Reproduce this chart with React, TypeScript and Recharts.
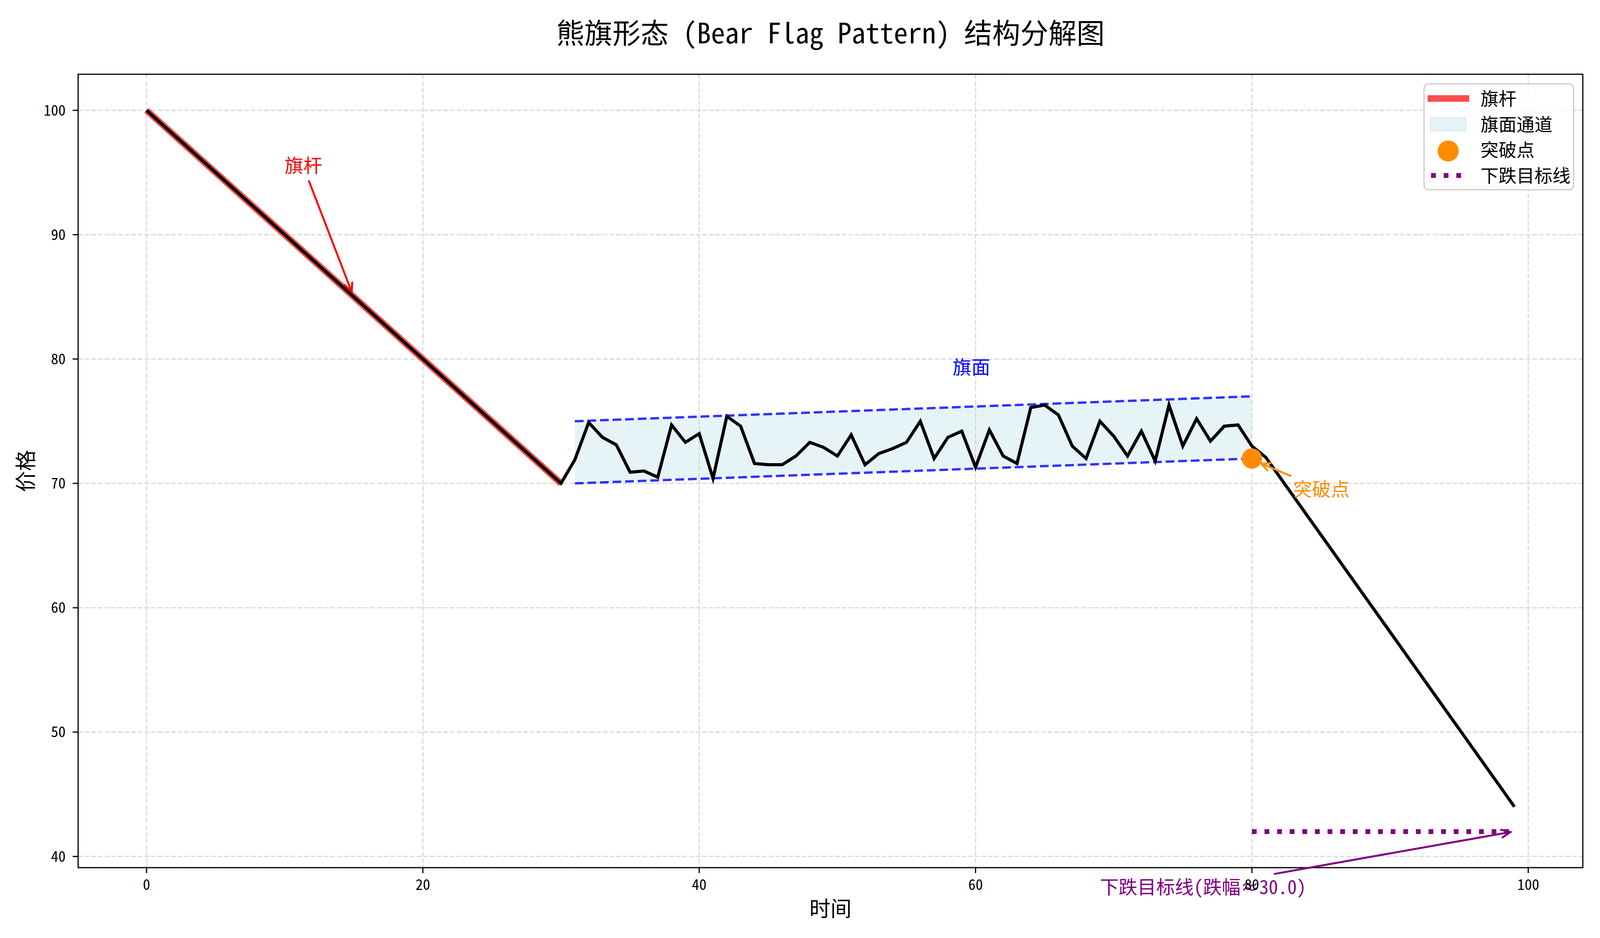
import React from 'react'
import {
  ComposedChart, Line, Area, Scatter, XAxis, YAxis, CartesianGrid,
  ReferenceLine, ReferenceArea, ReferenceDot, Legend,
} from 'recharts'

const FONT = "'Noto Sans Mono CJK SC', 'Noto Sans CJK SC', 'DejaVu Sans', sans-serif"

// the browser viewport is 4096 wide, so the 4200-wide layout is squeezed horizontally
const W = 4096
const H = 2400
const K = W / 4200

// flag pole (straight fall)
const POLE_X = [0, 30]
const POLE_Y = [100, 70]

// flag consolidation, x = 31 .. 80
const FLAG_START = 31
const FLAG_Y = [
  71.9, 74.9, 73.7, 73.1, 70.9, 71.0, 70.5, 74.7, 73.3, 74.0,
  70.4, 75.4, 74.6, 71.6, 71.5, 71.5, 72.2, 73.3, 72.9, 72.2,
  73.9, 71.5, 72.4, 72.8, 73.3, 75.0, 72.0, 73.7, 74.2, 71.3,
  74.3, 72.2, 71.6, 76.1, 76.3, 75.5, 73.0, 72.0, 75.0, 73.8,
  72.2, 74.2, 71.8, 76.3, 73.0, 75.2, 73.4, 74.6, 74.7, 73.0,
]

// breakdown after the flag
const DROP_X = [81, 99]
const DROP_Y = [72.1, 44]

// flag channel
const CHANNEL_X = [31, 80]
const CHANNEL_LOWER = [70, 72]
const CHANNEL_UPPER = [75, 77]

const BREAKOUT_X = [80]
const BREAKOUT_Y = [72]

const TARGET_X = [80, 99]
const TARGET_Y = [42, 42]

const X_TICKS = [0, 20, 40, 60, 80, 100]
const Y_TICKS = [40, 50, 60, 70, 80, 90, 100]

const LEGEND_LABELS = ['旗杆', '旗面通道', '突破点', '下跌目标线']

const NOTES = [
  { text: '旗杆', x: 10, y: 95, color: '#ff0000', anchor: 'start' },
  { text: '旗面', x: 59.7, y: 78.8, color: '#0000ff', anchor: 'middle' },
  { text: '突破点', x: 83, y: 69, color: '#ff8c00', anchor: 'start' },
  { text: '下跌目标线(跌幅≈30.0)', x: 69, y: 37, color: '#800080', anchor: 'start' },
]

const ARROWS = [
  { from: { x: 11.76, y: 94.3 }, to: { x: 14.85, y: 85.4 }, color: '#ff0000' },
  { from: { x: 82.8, y: 70.6 }, to: { x: 80.66, y: 71.6 }, color: '#ff8c00' },
  { from: { x: 81.65, y: 38.6 }, to: { x: 98.7, y: 41.96 }, color: '#800080' },
]

const priceData = [
  ...POLE_X.map((x, i) => ({ x, y: POLE_Y[i] })),
  ...FLAG_Y.map((y, i) => ({ x: FLAG_START + i, y })),
  ...DROP_X.map((x, i) => ({ x, y: DROP_Y[i] })),
]
const poleData = POLE_X.map((x, i) => ({ x, y: POLE_Y[i] }))
const channelData = CHANNEL_X.map((x, i) => ({
  x, lower: CHANNEL_LOWER[i], upper: CHANNEL_UPPER[i], band: [CHANNEL_LOWER[i], CHANNEL_UPPER[i]],
}))
const breakoutData = BREAKOUT_X.map((x, i) => ({ x, y: BREAKOUT_Y[i] }))
const targetData = TARGET_X.map((x, i) => ({ x, y: TARGET_Y[i] }))

const PLOT_LEFT = Math.round(205 * K)
const PLOT_RIGHT = Math.round(4155 * K)

const arrowShape = (color: string) => (p: any) => {
  const { x1, y1, x2, y2 } = p
  const a = Math.atan2(y2 - y1, x2 - x1)
  const L = 22, HW = 10
  const bx = x2 - L * Math.cos(a), by = y2 - L * Math.sin(a)
  const px = -Math.sin(a) * HW, py = Math.cos(a) * HW
  return (
    <g>
      <line x1={x1} y1={y1} x2={x2} y2={y2} stroke={color} strokeWidth={5} strokeLinecap="round" />
      <polyline points={`${bx + px},${by + py} ${x2},${y2} ${bx - px},${by - py}`}
        fill="none" stroke={color} strokeWidth={5} strokeLinecap="round" />
    </g>
  )
}

const noteShape = (note: typeof NOTES[number]) => (p: any) => (
  <text x={p.cx} y={p.cy} fill={note.color} textAnchor={note.anchor}
    fontSize={48} fontFamily={FONT}>{note.text}</text>
)

const LEG_W = Math.round(396 * K)
const LEG_H = 274

const renderLegend = () => {
  const rowY = LEGEND_LABELS.map((_, i) => 39 + i * 65.7)
  return (
    <svg width={LEG_W} height={LEG_H} style={{ display: 'block' }}>
      <rect x={1.5} y={1.5} width={LEG_W - 3} height={LEG_H - 3} rx={12} fill="#fff" fillOpacity={0.8} stroke="#cccccc" strokeWidth={3} />
      <line x1={11 * K} x2={120 * K} y1={rowY[0]} y2={rowY[0]} stroke="#ff0000" strokeOpacity={0.7} strokeWidth={17} />
      <rect x={18 * K} y={rowY[1] - 17} width={94 * K} height={34} fill="#add8e6" fillOpacity={0.3} stroke="#add8e6" strokeOpacity={0.3} strokeWidth={3} />
      <circle cx={65 * K} cy={rowY[2] + 3} r={27} fill="#ff8c00" />
      <line x1={20 * K} x2={106 * K} y1={rowY[3]} y2={rowY[3]} stroke="#800080" strokeWidth={12.5} strokeDasharray="12.2 20.1" />
      {LEGEND_LABELS.map((label, i) => (
        <text key={label} x={150 * K} y={rowY[i] + 17} fontSize={46} fontFamily={FONT} fill="#000">{label}</text>
      ))}
    </svg>
  )
}

export default function App() {
  return (
    <div style={{ position: 'absolute', left: 0, top: 0, width: W, height: H, background: '#fff' }}>
      <div style={{
        position: 'absolute', left: PLOT_LEFT, width: PLOT_RIGHT - PLOT_LEFT, top: 44, textAlign: 'center',
        fontFamily: FONT, fontSize: 72, lineHeight: '72px', color: '#000',
      }}>
        熊旗形态 (Bear Flag Pattern) 结构分解图
      </div>
      <ComposedChart width={W} height={H} margin={{ top: 190, right: W - PLOT_RIGHT, bottom: 0, left: 0 }}>
        <CartesianGrid stroke="#d9d9d9" strokeWidth={3} strokeDasharray="12 5" />
        <XAxis dataKey="x" type="number" domain={[-4.95, 103.95]} ticks={X_TICKS} allowDataOverflow
          height={180} axisLine={false} tickSize={14} tickMargin={16}
          tickLine={{ stroke: '#000', strokeWidth: 3 }}
          tick={{ fontSize: 37.5, fill: '#000', fontFamily: FONT }}
          label={{ value: '时间', position: 'insideBottom', offset: 55, fontSize: 54, fill: '#000', fontFamily: FONT }} />
        <YAxis type="number" domain={[39.1, 102.9]} ticks={Y_TICKS} allowDataOverflow
          width={PLOT_LEFT} axisLine={false} tickSize={14} tickMargin={18}
          tickLine={{ stroke: '#000', strokeWidth: 3 }}
          tick={{ fontSize: 37.5, fill: '#000', fontFamily: FONT }}
          label={{ value: '价格', angle: -90, position: 'insideLeft', offset: Math.round(69 * K), fontSize: 54, fill: '#000', fontFamily: FONT, style: { textAnchor: 'middle' } }} />
        <Area data={channelData} dataKey="band" type="linear" fill="#add8e6" fillOpacity={0.3}
          stroke="none" isAnimationActive={false} legendType="none" activeDot={false} />
        <Line data={channelData} dataKey="upper" type="linear" stroke="#0000ff" strokeOpacity={0.8}
          strokeWidth={6} strokeDasharray="22.4 9.8" dot={false} activeDot={false} isAnimationActive={false} />
        <Line data={channelData} dataKey="lower" type="linear" stroke="#0000ff" strokeOpacity={0.8}
          strokeWidth={6} strokeDasharray="22.4 9.8" dot={false} activeDot={false} isAnimationActive={false} />
        <Line data={poleData} dataKey="y" type="linear" stroke="#ff0000" strokeOpacity={0.7}
          strokeWidth={17} dot={false} activeDot={false} isAnimationActive={false} />
        <Line data={priceData} dataKey="y" type="linear" stroke="#000" strokeWidth={8}
          dot={false} activeDot={false} isAnimationActive={false} />
        <Line data={targetData} dataKey="y" type="linear" stroke="#800080" strokeWidth={12.5}
          strokeDasharray="12.2 20.1" dot={false} activeDot={false} isAnimationActive={false} />
        <Scatter data={breakoutData} dataKey="y" isAnimationActive={false}
          shape={(p: any) => <circle cx={p.cx} cy={p.cy} r={26} fill="#ff8c00" />} />
        {ARROWS.map((a, i) => (
          <ReferenceLine key={i} segment={[a.from, a.to]} ifOverflow="visible" shape={arrowShape(a.color)} />
        ))}
        {NOTES.map((n) => (
          <ReferenceDot key={n.text} x={n.x} y={n.y} r={0} ifOverflow="visible" shape={noteShape(n)} />
        ))}
        <ReferenceArea x1={-4.95} x2={103.95} y1={39.1} y2={102.9} fill="none" stroke="#000" strokeWidth={3} />
        <Legend layout="vertical" align="center" verticalAlign="middle" content={renderLegend}
          wrapperStyle={{ left: Math.round(3737 * K), top: 213, width: LEG_W, height: LEG_H }} />
      </ComposedChart>
    </div>
  )
}
